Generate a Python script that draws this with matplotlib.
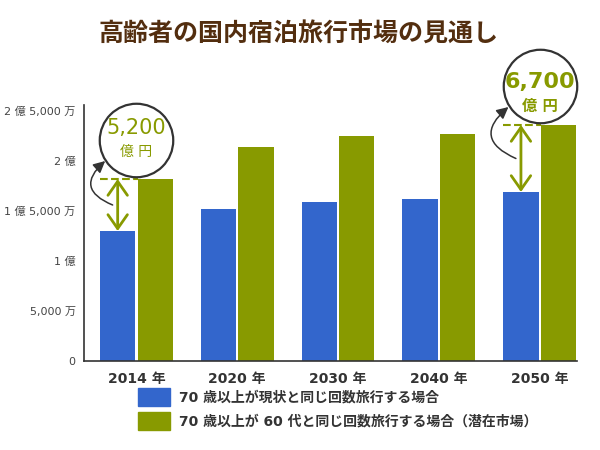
import matplotlib
matplotlib.use('Agg')
import matplotlib.pyplot as plt
import numpy as np

plt.rcParams['font.family'] = ['DejaVu Sans', 'Noto Sans CJK JP']

# data (unit: 億)
years = ['2014 年', '2020 年', '2030 年', '2040 年', '2050 年']
current = [1.30, 1.52, 1.59, 1.62, 1.69]
potential = [1.82, 2.14, 2.25, 2.27, 2.36]
series_labels = ['70 歳以上が現状と同じ回数旅行する場合',
                 '70 歳以上が 60 代と同じ回数旅行する場合（潜在市場）']
yticks = [0, 0.5, 1.0, 1.5, 2.0, 2.5]
ytick_labels = ['0', '5,000 万', '1 億', '1 億 5,000 万', '2 億', '2 億 5,000 万']
# callouts: group index, amount, bold?
callouts = [(0, '5,200', False), (4, '6,700', True)]

blue = '#3366CC'
green = '#889A00'
dark = '#333333'

fig = plt.figure(figsize=(6, 4.5), dpi=100)
ax = fig.add_axes([84 / 600, 1 - 361 / 450, (577 - 84) / 600, (361 - 105) / 450])

x = np.arange(len(years))
w = 0.35
off = 0.186
ax.bar(x - off, current, w, color=blue, zorder=2)
ax.bar(x + off, potential, w, color=green, zorder=2)

ax.set_xlim(-0.52, 4.37)
ax.set_ylim(0, 2.56)
ax.set_yticks(yticks)
ax.set_yticklabels(ytick_labels, fontsize=8, color='#444444')
ax.set_xticks(x)
ax.set_xticklabels(years, fontsize=10, fontweight='bold', color=dark)
ax.tick_params(axis='y', length=0, pad=6)
ax.tick_params(axis='x', length=0, pad=8)
for s in ['top', 'right']:
    ax.spines[s].set_visible(False)
for s in ['left', 'bottom']:
    ax.spines[s].set_color(dark)
    ax.spines[s].set_linewidth(1.2)

for i, amount, bold in callouts:
    lo, hi = current[i], potential[i]
    # dashed level line
    ax.plot([i - off - w / 2, i + off - w / 2], [hi, hi], ls='--', color=green, lw=1.5, zorder=3)
    # double arrow
    ax.annotate('', xy=(i - off, lo), xytext=(i - off, hi),
                arrowprops=dict(arrowstyle='<->,head_length=0.5,head_width=0.35',
                                color=green, lw=2, mutation_scale=20, shrinkA=0, shrinkB=0),
                zorder=4)
    # curved pointer
    ax.annotate('', xy=(i - 0.31, hi + 0.18), xytext=(i - off - 0.05, (lo + hi) / 2),
                arrowprops=dict(arrowstyle='-|>,head_length=0.5,head_width=0.25',
                                color=dark, lw=1.1, mutation_scale=14,
                                connectionstyle='arc3,rad=-0.8', shrinkA=0, shrinkB=0),
                zorder=4)
    # circle
    cy = hi + 0.39
    ax.scatter([i], [cy], s=2800, facecolors='white', edgecolors=dark, linewidths=1.6,
               clip_on=False, zorder=5)
    if bold:
        up, down, fs1, fs2, fw = 3, -15, 16, 11, 'bold'
    else:
        up, down, fs1, fs2, fw = 9, -8.5, 15, 10, 'normal'
    ax.annotate(amount, xy=(i, cy), xytext=(0, up), textcoords='offset points',
                ha='center', va='center', fontsize=fs1, fontweight=fw, color=green, zorder=6,
                annotation_clip=False)
    ax.annotate('億 円', xy=(i, cy), xytext=(0, down), textcoords='offset points',
                ha='center', va='center', fontsize=fs2, fontweight=fw, color=green, zorder=6,
                annotation_clip=False)

fig.text(0.497, 1 - 34 / 450, '高齢者の国内宿泊旅行市場の見通し', ha='center', va='center',
         fontsize=18, fontweight='bold', color='#532E0F')

handles = [plt.Rectangle((0, 0), 1, 1, color=blue), plt.Rectangle((0, 0), 1, 1, color=green)]
leg = fig.legend(handles, series_labels, loc='upper left', bbox_to_anchor=(138 / 600, 1 - 388 / 450),
                 frameon=False, borderpad=0, borderaxespad=0, handlelength=2.3, handleheight=1.6,
                 handletextpad=0.65, labelspacing=0.45, prop={'size': 10, 'weight': 'bold'})
for t in leg.get_texts():
    t.set_color(dark)

fig.savefig('out.png', dpi=100, facecolor='white')
